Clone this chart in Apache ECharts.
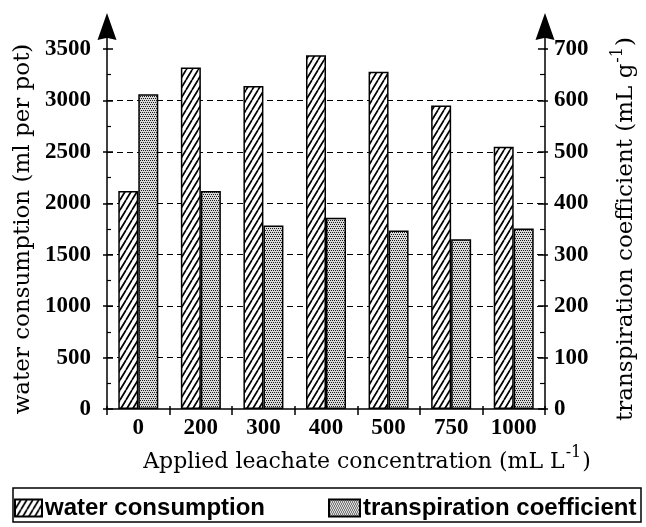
<!DOCTYPE html>
<html><head><meta charset="utf-8">
<script src="https://cdn.jsdelivr.net/npm/echarts@6/dist/echarts.min.js"></script>
<style>html,body{margin:0;padding:0;background:#fff}#c{width:646px;height:527px}</style>
</head><body><div id="c"></div>
<script>
const categories = ['0', '200', '300', '400', '500', '750', '1000'];
const waterConsumption = [2120, 3320, 3140, 3440, 3280, 2950, 2550];
const transpirationCoefficient = [612, 424, 357, 372, 347, 330, 351];
const leftAxisTicks = { min: 0, max: 3500, interval: 500 };
const rightAxisTicks = { min: 0, max: 700, interval: 100 };
const seriesNames = ['water consumption', 'transpiration coefficient'];

function hatchCanvas() {
  const c = document.createElement('canvas'); c.width = 6; c.height = 10;
  const g = c.getContext('2d');
  g.fillStyle = '#fff'; g.fillRect(0, 0, 6, 10);
  g.strokeStyle = '#000'; g.lineWidth = 1.7;
  g.beginPath();
  [-6, 0, 6].forEach(function (dx) { g.moveTo(dx, 10); g.lineTo(dx + 6, 0); });
  g.stroke();
  return c;
}
function dotCanvas() {
  const c = document.createElement('canvas'); c.width = 4; c.height = 4;
  const g = c.getContext('2d');
  g.fillStyle = '#d9d9d9'; g.fillRect(0, 0, 4, 4);
  g.fillStyle = '#1a1a1a';
  [[0, 0], [2, 0], [1, 2], [3, 2]].forEach(function (p) { g.fillRect(p[0], p[1], 1, 1); });
  return c;
}
const hatch = { image: hatchCanvas(), repeat: 'repeat' };
const dots = { image: dotCanvas(), repeat: 'repeat' };

const arrow = 'path://M0,0 L9.5,27 L0.75,25 L0.75,37 L-0.75,37 L-0.75,25 L-9.5,27 Z';
const serif = 'Liberation Serif';
const titleFont = 'DejaVu Serif';
const plain = function (v) { return String(v); };

const chart = echarts.init(document.getElementById('c'), null, { renderer: 'canvas' });
const tickLabel = { color: '#000', fontFamily: serif, fontSize: 23, fontWeight: 'bold', formatter: plain };
const blk = { color: '#000', width: 1.5 };
const supRich = {
  a: { fontFamily: titleFont, fontSize: 22, color: '#000', lineHeight: 28, verticalAlign: 'bottom' },
  s: { fontFamily: titleFont, fontSize: 16, color: '#000', lineHeight: 28, verticalAlign: 'top', padding: [0, 1, 0, 1] }
};

chart.setOption({
  animation: false,
  backgroundColor: '#fff',
  grid: { left: 107, right: 87, top: 49, bottom: 118, containLabel: false },
  xAxis: [
    {
      type: 'category',
      data: categories,
      axisLine: { lineStyle: blk },
      axisTick: { show: true, length: 6, lineStyle: blk },
      axisLabel: { color: '#000', fontFamily: serif, fontSize: 23, fontWeight: 'bold', margin: 8 },
      name: '{a|Applied leachate concentration (mL L}{s|-1}{a|)}',
      nameLocation: 'middle',
      nameGap: 32,
      nameTextStyle: { padding: [0, 0, 0, 82], rich: supRich }
    },
    {
      type: 'category', position: 'bottom', data: categories,
      axisLine: { show: false }, axisLabel: { show: false }, splitLine: { show: false },
      axisTick: { show: true, inside: true, length: 3, lineStyle: blk }
    }
  ],
  yAxis: [
    {
      type: 'value', position: 'left',
      min: leftAxisTicks.min, max: leftAxisTicks.max, interval: leftAxisTicks.interval,
      axisLine: { show: true, symbol: ['none', arrow], symbolSize: [19, 37], symbolOffset: [0, 17.5], lineStyle: blk },
      axisTick: { show: true, inside: true, length: 6, lineStyle: blk },
      minorTick: { show: true, splitNumber: 2, length: 4, lineStyle: { color: '#000', width: 1.2 } },
      axisLabel: Object.assign({ margin: 16 }, tickLabel),
      splitLine: { show: true, showMinLine: false, showMaxLine: false, lineStyle: { color: '#000', width: 1, type: [6, 4] } },
      name: 'water consumption (ml per pot)',
      nameLocation: 'middle', nameRotate: 90, nameGap: 63,
      nameTextStyle: { fontFamily: titleFont, fontSize: 23, color: '#000' }
    },
    {
      type: 'value', position: 'right',
      min: rightAxisTicks.min, max: rightAxisTicks.max, interval: rightAxisTicks.interval,
      axisLine: { show: true, symbol: ['none', arrow], symbolSize: [19, 37], symbolOffset: [0, 17.5], lineStyle: blk },
      axisTick: { show: true, inside: true, length: 7, lineStyle: blk },
      minorTick: { show: true, splitNumber: 2, length: 5, lineStyle: { color: '#000', width: 1.2 } },
      axisLabel: Object.assign({ margin: 9 }, tickLabel),
      splitLine: { show: false },
      name: '{a|transpiration coefficient (mL g}{s|-1}{a|)}',
      nameLocation: 'middle', nameRotate: 90, nameGap: 65,
      nameTextStyle: { rich: {
        a: { fontFamily: titleFont, fontSize: 23, color: '#000', lineHeight: 28, verticalAlign: 'bottom' },
        s: { fontFamily: titleFont, fontSize: 16, color: '#000', lineHeight: 28, verticalAlign: 'top', padding: [0, 1, 0, 1] }
      } }
    },
    {
      type: 'value', position: 'left',
      min: leftAxisTicks.min, max: leftAxisTicks.max, interval: leftAxisTicks.interval,
      axisLine: { show: false }, axisLabel: { show: false }, splitLine: { show: false },
      axisTick: { show: true, inside: false, length: 4, lineStyle: blk }
    },
    {
      type: 'value', position: 'right',
      min: rightAxisTicks.min, max: rightAxisTicks.max, interval: rightAxisTicks.interval,
      axisLine: { show: false }, axisLabel: { show: false }, splitLine: { show: false },
      axisTick: { show: true, inside: false, length: 3, lineStyle: blk }
    }
  ],
  legend: [
    {
      data: [seriesNames[0]], left: 14, top: 496, padding: 0, itemWidth: 27, itemHeight: 17, icon: 'rect', itemGap: 4,
      textStyle: { fontFamily: 'Liberation Sans', fontWeight: 'bold', fontSize: 24, color: '#000', padding: [0, 0, 0, -2] }
    },
    {
      data: [seriesNames[1]], left: 328, top: 496, padding: 0, itemWidth: 31, itemHeight: 17, icon: 'rect',
      textStyle: { fontFamily: 'Liberation Sans', fontWeight: 'bold', fontSize: 24, color: '#000', padding: [0, 0, 0, -2] }
    }
  ],
  graphic: [
    { type: 'rect', shape: { x: 13, y: 488, width: 628, height: 34 }, style: { fill: 'none', stroke: '#000', lineWidth: 1.5 }, z: -1 }
  ],
  series: [
    {
      name: seriesNames[0], type: 'bar', yAxisIndex: 0, data: waterConsumption,
      barWidth: 20, barGap: '0%',
      itemStyle: { color: hatch, borderColor: '#000', borderWidth: 1.5 }
    },
    {
      name: seriesNames[1], type: 'bar', yAxisIndex: 1, data: transpirationCoefficient,
      barWidth: 20, barGap: '0%',
      itemStyle: { color: dots, borderColor: '#000', borderWidth: 1.5 }
    }
  ]
});
</script></body></html>
